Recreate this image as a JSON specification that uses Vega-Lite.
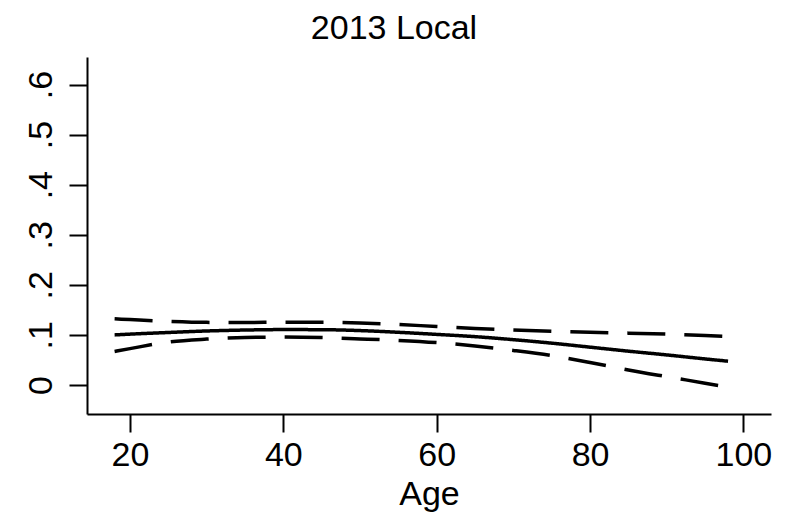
{
  "$schema": "https://vega.github.io/schema/vega-lite/v6.json",
  "autosize": "none",
  "width": 684,
  "height": 357,
  "padding": {"left": 87, "top": 57, "right": 38, "bottom": 105},
  "background": "white",
  "config": {
    "view": {"stroke": null},
    "font": "Liberation Sans"
  },
  "title": {
    "text": "2013 Local",
    "font": "Liberation Sans",
    "fontSize": 34,
    "fontWeight": "normal",
    "color": "black",
    "anchor": "middle",
    "frame": "group",
    "dx": -35,
    "baseline": "alphabetic",
    "offset": -16
  },
  "data": {
    "values": [
      {"age": 18, "series": "fit", "value": 0.100},
      {"age": 20, "series": "fit", "value": 0.1015},
      {"age": 25, "series": "fit", "value": 0.1048},
      {"age": 30, "series": "fit", "value": 0.1078},
      {"age": 35, "series": "fit", "value": 0.1097},
      {"age": 40, "series": "fit", "value": 0.1106},
      {"age": 45, "series": "fit", "value": 0.1104},
      {"age": 50, "series": "fit", "value": 0.1086},
      {"age": 55, "series": "fit", "value": 0.1052},
      {"age": 60, "series": "fit", "value": 0.101},
      {"age": 65, "series": "fit", "value": 0.0965},
      {"age": 70, "series": "fit", "value": 0.0905},
      {"age": 75, "series": "fit", "value": 0.0835},
      {"age": 80, "series": "fit", "value": 0.0755},
      {"age": 85, "series": "fit", "value": 0.0675},
      {"age": 90, "series": "fit", "value": 0.060},
      {"age": 95, "series": "fit", "value": 0.052},
      {"age": 98, "series": "fit", "value": 0.0475},
      {"age": 18, "series": "upper", "value": 0.132},
      {"age": 20, "series": "upper", "value": 0.1305},
      {"age": 25, "series": "upper", "value": 0.127},
      {"age": 30, "series": "upper", "value": 0.125},
      {"age": 35, "series": "upper", "value": 0.1248},
      {"age": 40, "series": "upper", "value": 0.1252},
      {"age": 45, "series": "upper", "value": 0.1252},
      {"age": 50, "series": "upper", "value": 0.1238},
      {"age": 55, "series": "upper", "value": 0.1208},
      {"age": 60, "series": "upper", "value": 0.1168},
      {"age": 65, "series": "upper", "value": 0.113},
      {"age": 70, "series": "upper", "value": 0.1098},
      {"age": 75, "series": "upper", "value": 0.1072},
      {"age": 80, "series": "upper", "value": 0.1052},
      {"age": 85, "series": "upper", "value": 0.1035},
      {"age": 90, "series": "upper", "value": 0.1015},
      {"age": 95, "series": "upper", "value": 0.099},
      {"age": 98, "series": "upper", "value": 0.097},
      {"age": 18, "series": "lower", "value": 0.067},
      {"age": 20, "series": "lower", "value": 0.0726},
      {"age": 25, "series": "lower", "value": 0.0856},
      {"age": 30, "series": "lower", "value": 0.0916},
      {"age": 35, "series": "lower", "value": 0.095},
      {"age": 40, "series": "lower", "value": 0.0956},
      {"age": 45, "series": "lower", "value": 0.0946},
      {"age": 50, "series": "lower", "value": 0.092},
      {"age": 55, "series": "lower", "value": 0.089},
      {"age": 60, "series": "lower", "value": 0.0846},
      {"age": 65, "series": "lower", "value": 0.078},
      {"age": 70, "series": "lower", "value": 0.069},
      {"age": 75, "series": "lower", "value": 0.0586},
      {"age": 80, "series": "lower", "value": 0.045},
      {"age": 85, "series": "lower", "value": 0.030},
      {"age": 90, "series": "lower", "value": 0.0166},
      {"age": 95, "series": "lower", "value": 0.0036},
      {"age": 98, "series": "lower", "value": -0.0044}
    ]
  },
  "mark": {"type": "line", "interpolate": "monotone", "color": "black", "strokeWidth": 3.5, "strokeCap": "butt", "clip": false},
  "encoding": {
    "x": {
      "field": "age",
      "type": "quantitative",
      "scale": {"domain": [14.4, 103.6], "nice": false, "zero": false},
      "axis": {
        "title": "Age",
        "values": [20, 40, 60, 80, 100],
        "grid": false,
        "domainColor": "black",
        "domainWidth": 2,
        "tickColor": "black",
        "tickWidth": 2,
        "tickSize": 18,
        "labelFont": "Liberation Sans",
        "labelFontSize": 34,
        "labelColor": "black",
        "labelPadding": 6,
        "titleFont": "Liberation Sans",
        "titleFontSize": 34,
        "titleFontWeight": "normal",
        "titleColor": "black",
        "titlePadding": 5
      }
    },
    "y": {
      "field": "value",
      "type": "quantitative",
      "scale": {"domain": [-0.058, 0.655], "nice": false, "zero": false},
      "axis": {
        "title": null,
        "values": [0, 0.1, 0.2, 0.3, 0.4, 0.5, 0.6],
        "labelExpr": "datum.value == 0 ? '0' : replace(format(datum.value, '.1f'), '0.', '.')",
        "grid": false,
        "domainColor": "black",
        "domainWidth": 2,
        "tickColor": "black",
        "tickWidth": 2,
        "tickSize": 18,
        "labelAngle": -90,
        "labelAlign": "center",
        "labelBaseline": "bottom",
        "labelFont": "Liberation Sans",
        "labelFontSize": 34,
        "labelColor": "black",
        "labelPadding": 11
      }
    },
    "strokeDash": {
      "field": "series",
      "type": "nominal",
      "scale": {"domain": ["fit", "upper", "lower"], "range": [[1, 0], [38, 19], [38, 19]]},
      "legend": null
    }
  }
}
